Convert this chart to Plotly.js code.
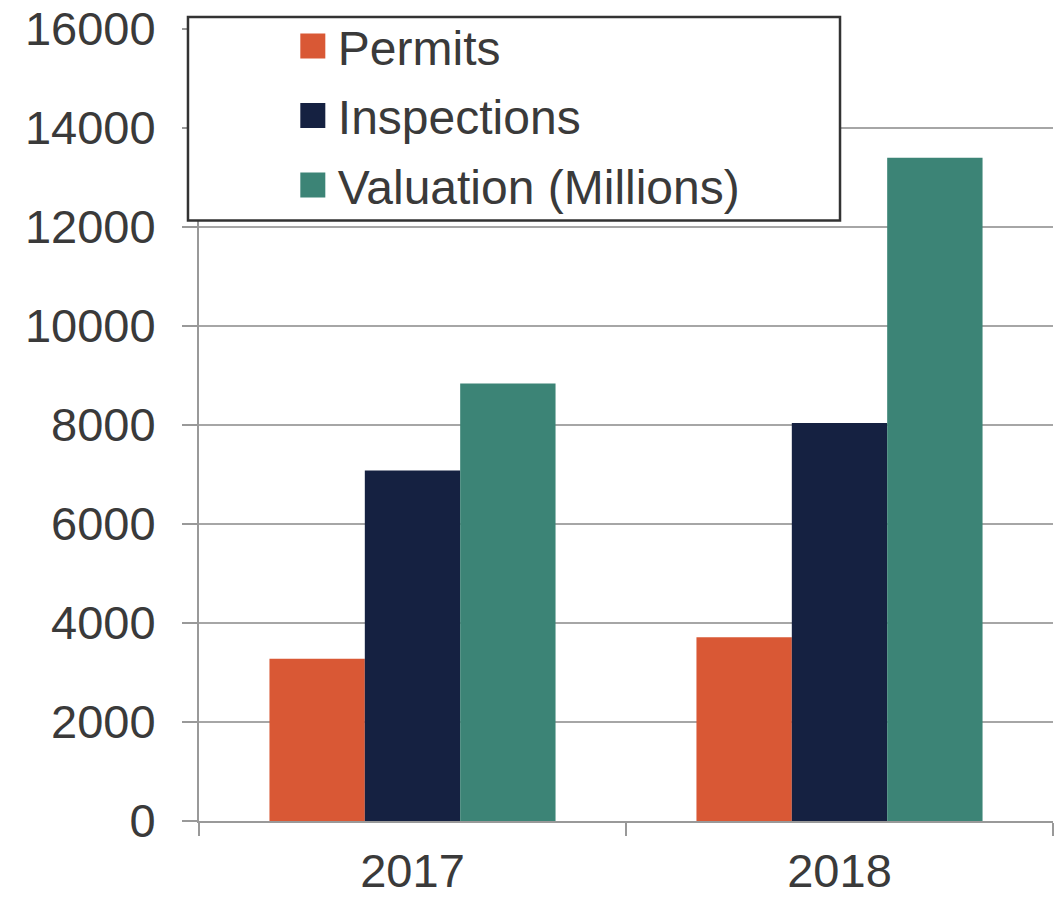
<!DOCTYPE html>
<html>
<head>
<meta charset="utf-8">
<script src="https://cdn.plot.ly/plotly-3.0.1.min.js"></script>
<style>html,body{margin:0;padding:0;background:#fff;}#chart{width:1061px;height:897px;}</style>
</head>
<body>
<div id="chart"></div>
<script>
const years = ['2017', '2018'];
const permits = [3280, 3710];
const inspections = [7080, 8040];
const valuation = [8840, 13400];
const seriesNames = ['Permits', 'Inspections', 'Valuation (Millions)'];
const seriesColors = ['#D95835', '#152141', '#3C8476'];
const yTicks = [0, 2000, 4000, 6000, 8000, 10000, 12000, 14000, 16000];

const seriesValues = [permits, inspections, valuation];
const traces = seriesValues.map((vals, i) => ({
  type: 'bar',
  x: years,
  y: vals,
  name: seriesNames[i],
  legendgroup: 'g' + i,
  marker: {color: seriesColors[i], line: {width: 0}},
  hoverinfo: 'x+y+name'
}));

const fontFamily = '"Liberation Sans", Arial, sans-serif';
const tickFont = {family: fontFamily, size: 47, color: '#3a3a3a'};
const legendFont = {family: fontFamily, size: 48, color: '#3a3a3a'};

const layout = {
  width: 1061,
  height: 897,
  margin: {l: 199, r: 8, t: 27, b: 76, pad: 0},
  paper_bgcolor: '#ffffff',
  plot_bgcolor: '#ffffff',
  font: tickFont,
  barmode: 'group',
  bargap: 0.33,
  bargroupgap: 0,
  showlegend: true,
  legend: {
    x: 0.104, xanchor: 'left',
    y: 1.026, yanchor: 'top',
    bgcolor: 'rgba(0,0,0,0)',
    borderwidth: 0,
    font: legendFont,
    itemwidth: 40,
    tracegroupgap: 4,
    traceorder: 'grouped'
  },
  xaxis: {
    type: 'category',
    showgrid: false,
    showline: true,
    linecolor: '#999999',
    linewidth: 2,
    ticks: 'outside',
    tickson: 'boundaries',
    ticklen: 13,
    tickwidth: 2,
    tickcolor: '#999999',
    tickfont: tickFont,
    zeroline: false,
    ticklabelstandoff: 8
  },
  yaxis: {
    range: [0, 16000],
    tickvals: yTicks,
    ticktext: yTicks.map(String),
    showgrid: true,
    gridcolor: '#a6a6a6',
    gridwidth: 2,
    showline: true,
    linecolor: '#999999',
    linewidth: 2,
    ticks: 'outside',
    ticklen: 15,
    tickwidth: 2,
    tickcolor: '#999999',
    tickfont: tickFont,
    zeroline: false,
    ticklabelstandoff: 17
  },
  shapes: [{
    type: 'rect', xref: 'paper', yref: 'paper',
    x0: -0.0129, x1: 0.7506, y0: 0.7582, y1: 1.0151,
    line: {color: '#333333', width: 2.5},
    fillcolor: '#ffffff',
    layer: 'above'
  }]
};

Plotly.newPlot('chart', traces, layout, {displayModeBar: false, staticPlot: true}).then(gd => {
  gd.querySelectorAll('.legend .legendpoints path').forEach(p => {
    p.setAttribute('d', 'M12.5,12.5H-12.5V-12.5H12.5Z');
  });
});
</script>
</body>
</html>
